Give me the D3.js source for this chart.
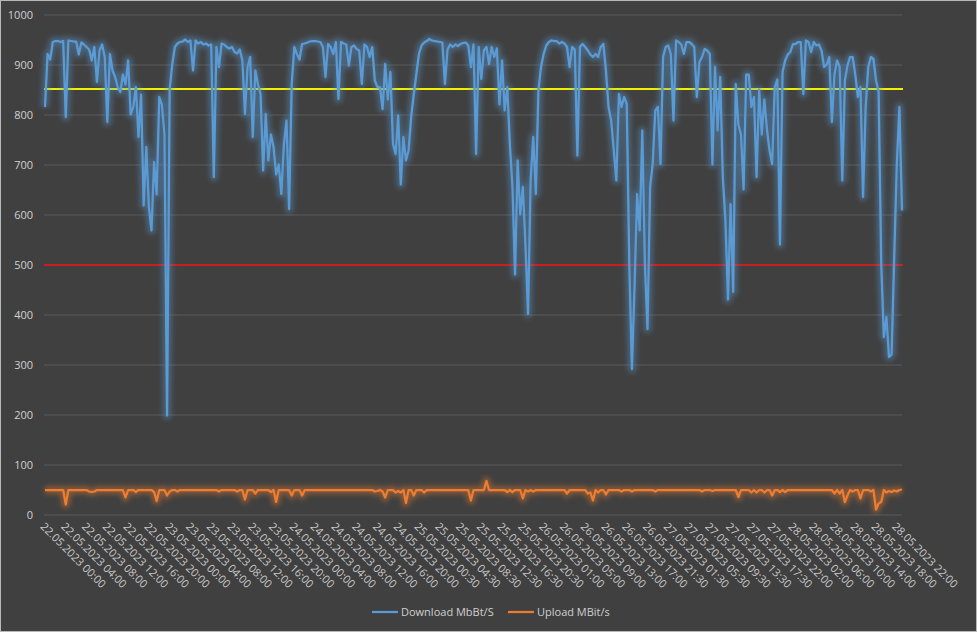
<!DOCTYPE html>
<html>
<head>
<meta charset="utf-8">
<script src="https://cdn.jsdelivr.net/npm/d3@7"></script>
<style>
  body { margin: 0; background: #404040; }
  svg text { font-family: "Open Sans", sans-serif; }
</style>
</head>
<body>
<div id="chart"></div>
<script>
// category labels, one every 8 samples
var tickLabels = [
  "22.05.2023 00:00", "22.05.2023 04:00", "22.05.2023 08:00", "22.05.2023 12:00", "22.05.2023 16:00", "22.05.2023 20:00",
  "23.05.2023 00:00", "23.05.2023 04:00", "23.05.2023 08:00", "23.05.2023 12:00", "23.05.2023 16:00", "23.05.2023 20:00",
  "24.05.2023 00:00", "24.05.2023 04:00", "24.05.2023 08:00", "24.05.2023 12:00", "24.05.2023 16:00", "24.05.2023 20:00",
  "25.05.2023 00:30", "25.05.2023 04:30", "25.05.2023 08:30", "25.05.2023 12:30", "25.05.2023 16:30", "25.05.2023 20:30",
  "26.05.2023 01:00", "26.05.2023 05:00", "26.05.2023 09:00", "26.05.2023 13:00", "26.05.2023 17:00", "26.05.2023 21:30",
  "27.05.2023 01:30", "27.05.2023 05:30", "27.05.2023 09:30", "27.05.2023 13:30", "27.05.2023 17:30", "27.05.2023 22:00",
  "28.05.2023 02:00", "28.05.2023 06:00", "28.05.2023 10:00", "28.05.2023 14:00", "28.05.2023 18:00", "28.05.2023 22:00"
];
var samplesPerLabel = 8;

var download = [
  815,921,910,945,947,947,945,947,795,948,
  947,946,946,920,944,940,935,930,908,935,
  865,928,940,915,785,921,888,875,855,845,
  880,860,908,800,815,855,755,840,618,735,
  615,568,705,640,835,820,760,198,850,900,
  935,942,945,946,950,945,948,888,948,942,
  945,940,942,938,940,675,935,895,942,940,
  935,932,935,925,922,930,908,801,895,915,
  755,888,860,841,688,801,708,760,735,680,
  700,641,741,788,611,861,935,921,910,941,
  942,944,946,947,947,946,945,935,875,941,
  935,921,945,831,945,942,940,898,935,938,
  931,928,861,940,935,915,935,868,855,855,
  811,901,830,885,741,721,798,660,755,708,
  728,795,841,881,921,938,944,947,951,948,
  947,946,945,944,861,930,940,935,940,937,
  941,943,944,938,895,940,721,935,871,928,
  935,901,935,915,932,820,908,808,855,741,
  655,480,708,600,655,540,401,668,755,641,
  848,895,921,938,945,948,947,947,942,945,
  942,935,895,935,930,718,935,941,935,928,
  920,915,921,915,935,941,888,815,788,730,
  668,841,815,835,821,500,291,455,641,568,
  768,500,371,655,701,808,815,701,915,935,
  938,920,788,948,945,940,921,945,945,941,
  935,835,905,915,931,928,921,700,895,768,
  875,675,588,430,621,445,861,780,760,650,
  880,880,815,835,675,850,760,830,770,728,
  701,855,870,540,885,908,920,925,941,941,
  945,945,841,948,945,925,945,938,940,928,
  895,900,915,785,880,908,895,668,868,898,
  915,915,880,835,855,635,815,895,915,911,
  868,845,501,355,395,315,320,515,700,815,
  608
];

var upload = [
  49,49,49,49,49,49,49,49,20,49,
  49,49,49,49,49,49,49,46,45,46,
  49,49,49,49,49,49,49,49,49,49,
  49,34,49,49,49,45,49,49,49,49,
  49,49,45,27,49,49,49,38,46,49,
  49,46,49,49,49,49,49,49,49,49,
  49,49,49,49,49,49,49,46,49,49,
  49,49,49,49,46,49,49,30,49,49,
  49,42,49,49,49,49,49,45,49,25,
  49,49,49,49,49,38,49,49,49,38,
  49,49,49,49,49,49,49,49,49,49,
  49,49,49,49,49,49,49,49,49,49,
  49,49,49,49,49,49,49,46,47,49,
  46,34,49,49,49,44,47,44,49,23,
  49,49,38,49,49,49,44,49,49,49,
  49,49,49,49,49,49,49,49,49,49,
  49,49,49,49,28,49,49,49,49,49,
  67,49,49,49,49,49,49,49,45,49,
  45,49,49,49,32,49,46,49,46,49,
  49,49,49,49,49,49,49,49,49,49,
  49,42,49,49,49,49,49,49,49,42,
  44,28,49,44,49,49,40,49,49,49,
  49,49,46,49,49,49,46,49,49,49,
  49,49,49,49,49,46,49,49,49,49,
  49,49,49,49,49,49,49,49,49,49,
  49,49,49,46,49,49,49,47,49,49,
  49,49,49,49,49,49,49,35,49,49,
  49,49,44,49,44,49,49,44,49,49,
  38,49,49,45,49,45,49,49,49,49,
  49,49,49,49,49,49,49,49,49,49,
  49,49,49,49,42,49,42,49,25,38,
  49,46,49,49,32,49,49,49,46,49,
  10,22,25,49,44,47,45,48,46,49,
  50
];

var thresholds = [851, 499];
var seriesNames = ["Download MbBt/S", "Upload MBit/s"];
var yTicks = [0, 100, 200, 300, 400, 500, 600, 700, 800, 900, 1000];

var width = 977, height = 632;
var plotLeft = 44, plotRight = 902, plotTop = 14.5, plotBottom = 514.5;
var colors = { download: "#5b9bd5", upload: "#ed7d31", thresholds: ["#f2f200", "#c81e1e"] };

var svg = d3.select("#chart").append("svg")
  .attr("width", width)
  .attr("height", height);

svg.append("rect")
  .attr("x", 0.5).attr("y", 0.5)
  .attr("width", width - 1).attr("height", height - 1)
  .attr("fill", "#404040")
  .attr("stroke", "#b8b8b8");

// glow like the excel effect
var defs = svg.append("defs");
defs.append("filter")
  .attr("id", "glow")
  .attr("filterUnits", "userSpaceOnUse")
  .attr("x", 0).attr("y", 0).attr("width", width).attr("height", height)
  .append("feGaussianBlur").attr("stdDeviation", 2.6);

var x = d3.scaleLinear().domain([0, download.length - 1]).range([45, 902]);
var y = d3.scaleLinear().domain([0, 1000]).range([plotBottom, plotTop]);

// y axis + gridlines
var yAxis = svg.append("g")
  .attr("transform", "translate(" + plotLeft + ",0)")
  .call(d3.axisLeft(y).tickValues(yTicks).tickFormat(d3.format("d"))
    .tickSize(-(plotRight - plotLeft)).tickPadding(11));
yAxis.select(".domain").remove();
yAxis.selectAll("line").attr("stroke", "#5a5a5a").attr("stroke-width", 1);
yAxis.selectAll("text").attr("fill", "#d0d0d0").style("font-size", "11px");

// x axis labels
var xAxis = svg.append("g")
  .attr("transform", "translate(0," + plotBottom + ")")
  .call(d3.axisBottom(x)
    .tickValues(tickLabels.map(function (d, i) { return i * samplesPerLabel; }))
    .tickFormat(function (d) { return tickLabels[d / samplesPerLabel]; })
    .tickSize(0));
xAxis.select(".domain").remove();
xAxis.selectAll("text")
  .attr("x", 0).attr("y", 0).attr("dy", "0.35em")
  .attr("transform", "translate(-3,10) rotate(45)")
  .style("text-anchor", "start")
  .style("font-size", "11px")
  .attr("fill", "#c8c8c8");

// threshold lines
svg.selectAll(".threshold")
  .data(thresholds)
  .join("line")
  .attr("class", "threshold")
  .attr("x1", plotLeft).attr("x2", plotRight + 1)
  .attr("y1", function (d) { return y(d); })
  .attr("y2", function (d) { return y(d); })
  .attr("stroke", function (d, i) { return colors.thresholds[i]; })
  .attr("stroke-width", 2);

var line = d3.line()
  .x(function (d, i) { return x(i); })
  .y(function (d) { return y(d); });

function drawSeries(values, color) {
  svg.append("path")
    .datum(values)
    .attr("d", line)
    .attr("fill", "none")
    .attr("stroke", color)
    .attr("stroke-width", 8)
    .attr("stroke-opacity", 0.4)
    .attr("stroke-linejoin", "round")
    .attr("filter", "url(#glow)");
  svg.append("path")
    .datum(values)
    .attr("d", line)
    .attr("fill", "none")
    .attr("stroke", color)
    .attr("stroke-width", 2.25)
    .attr("stroke-linejoin", "round");
}
drawSeries(download, colors.download);
drawSeries(upload, colors.upload);

// legend
var legend = [
  { name: seriesNames[0], color: colors.download, x: 372 },
  { name: seriesNames[1], color: colors.upload, x: 508 }
];
var lg = svg.selectAll(".legend").data(legend).join("g")
  .attr("class", "legend")
  .attr("transform", function (d) { return "translate(" + d.x + ",612)"; });
lg.append("line")
  .attr("x1", 0).attr("x2", 26)
  .attr("stroke", function (d) { return d.color; })
  .attr("stroke-width", 2.25);
lg.append("text")
  .attr("x", 29).attr("dy", "0.35em")
  .attr("fill", "#d0d0d0")
  .style("font-size", "11px")
  .text(function (d) { return d.name; });
</script>
</body>
</html>
